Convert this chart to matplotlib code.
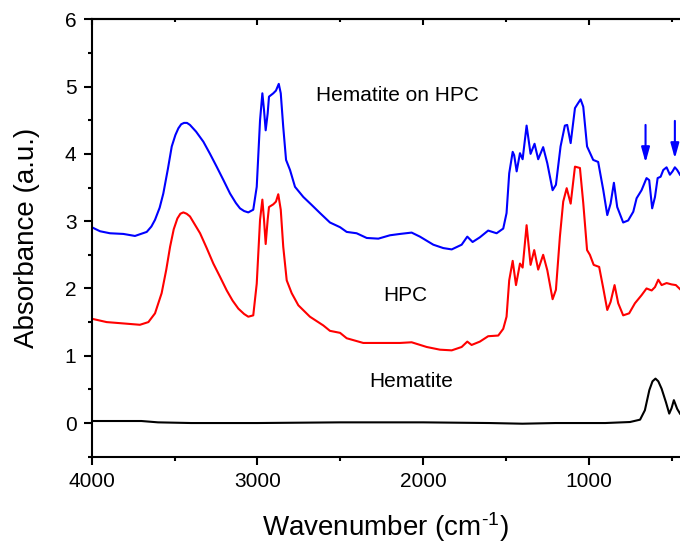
import matplotlib
matplotlib.use("Agg")
import matplotlib.pyplot as plt
from matplotlib.ticker import MultipleLocator

plt.rcParams['font.family'] = ['Liberation Sans', 'DejaVu Sans']
plt.rcParams['mathtext.default'] = 'regular'

# spectra (wavenumber in cm-1, absorbance)
wn_blue = [4000, 3950, 3890, 3809, 3739, 3668, 3640, 3618, 3590, 3568, 3540, 3517, 3495, 3477,
           3460, 3443, 3425, 3407, 3370, 3326, 3286, 3246, 3205, 3165, 3130, 3105, 3080, 3055,
           3025, 3004, 2984, 2970, 2960, 2950, 2938, 2930, 2904, 2888, 2871, 2859, 2844, 2827,
           2803, 2773, 2723, 2672, 2622, 2562, 2501, 2461, 2401, 2340, 2270, 2200, 2139, 2069,
           2019, 1938, 1878, 1827, 1767, 1733, 1701, 1657, 1607, 1556, 1516, 1496, 1480, 1459,
           1450, 1435, 1415, 1399, 1375, 1351, 1327, 1305, 1275, 1250, 1218, 1198, 1170, 1144,
           1130, 1109, 1083, 1065, 1049, 1033, 1010, 973, 943, 912, 888, 868, 848, 828, 792,
           762, 731, 711, 681, 651, 635, 617, 600, 584, 566, 550, 530, 510, 494, 480, 466, 449]
abs_blue = [2.91, 2.85, 2.82, 2.81, 2.78, 2.84, 2.92, 3.02, 3.20, 3.41, 3.78, 4.11, 4.28, 4.38,
            4.44, 4.46, 4.46, 4.43, 4.33, 4.18, 4.00, 3.81, 3.61, 3.41, 3.27, 3.19, 3.15, 3.13,
            3.17, 3.51, 4.50, 4.90, 4.65, 4.35, 4.60, 4.85, 4.90, 4.94, 5.04, 4.90, 4.40, 3.91,
            3.76, 3.51, 3.36, 3.24, 3.12, 2.98, 2.91, 2.84, 2.82, 2.75, 2.74, 2.79, 2.81, 2.83,
            2.77, 2.65, 2.60, 2.58, 2.65, 2.77, 2.69, 2.76, 2.86, 2.82, 2.89, 3.12, 3.71, 4.03,
            3.98, 3.74, 4.01, 3.92, 4.42, 4.00, 4.15, 3.92, 4.10, 3.86, 3.46, 3.54, 4.11, 4.42,
            4.43, 4.16, 4.68, 4.75, 4.81, 4.70, 4.11, 3.91, 3.88, 3.46, 3.09, 3.26, 3.57, 3.21,
            2.98, 3.01, 3.14, 3.34, 3.46, 3.64, 3.61, 3.19, 3.36, 3.64, 3.66, 3.76, 3.80, 3.69,
            3.74, 3.80, 3.76, 3.69]

wn_red = [4000, 3910, 3809, 3709, 3658, 3618, 3578, 3550, 3527, 3505, 3483, 3465, 3447, 3427,
          3407, 3346, 3306, 3266, 3225, 3185, 3150, 3115, 3080, 3055, 3025, 3004, 2984, 2970,
          2960, 2950, 2938, 2930, 2904, 2888, 2874, 2859, 2844, 2823, 2793, 2753, 2683, 2602,
          2562, 2501, 2461, 2361, 2240, 2139, 2069, 1978, 1898, 1827, 1767, 1733, 1707, 1657,
          1607, 1546, 1516, 1496, 1480, 1459, 1439, 1415, 1399, 1375, 1351, 1329, 1305, 1275,
          1250, 1218, 1198, 1174, 1154, 1133, 1109, 1083, 1053, 1033, 1010, 993, 970, 937, 912,
          888, 868, 844, 822, 792, 756, 721, 681, 651, 620, 600, 580, 560, 530, 500, 474, 449]
abs_red = [1.55, 1.50, 1.48, 1.46, 1.50, 1.63, 1.93, 2.28, 2.62, 2.88, 3.04, 3.11, 3.13, 3.11,
           3.07, 2.82, 2.60, 2.37, 2.17, 1.97, 1.82, 1.70, 1.62, 1.58, 1.60, 2.07, 3.02, 3.32,
           3.02, 2.66, 3.02, 3.21, 3.25, 3.29, 3.40, 3.17, 2.62, 2.12, 1.93, 1.75, 1.58, 1.45,
           1.37, 1.34, 1.26, 1.19, 1.19, 1.19, 1.20, 1.13, 1.09, 1.08, 1.13, 1.21, 1.16, 1.21,
           1.29, 1.30, 1.40, 1.58, 2.12, 2.41, 2.05, 2.37, 2.31, 2.94, 2.35, 2.57, 2.28, 2.50,
           2.27, 1.84, 1.98, 2.77, 3.29, 3.49, 3.26, 3.81, 3.79, 3.27, 2.57, 2.50, 2.35, 2.32,
           2.00, 1.68, 1.80, 2.05, 1.78, 1.60, 1.63, 1.78, 1.90, 2.00, 1.97, 2.02, 2.13, 2.05,
           2.08, 2.06, 2.05, 1.99]

wn_black = [4000, 3800, 3700, 3600, 3400, 3000, 2500, 2000, 1600, 1400, 1200, 900, 751, 690,
            661, 634, 615, 597, 580, 560, 534, 514, 500, 486, 466, 449]
abs_black = [0.03, 0.03, 0.03, 0.01, 0.00, 0.00, 0.01, 0.01, 0.00, -0.01, 0.00, 0.00, 0.015,
             0.05, 0.19, 0.49, 0.62, 0.66, 0.62, 0.51, 0.31, 0.14, 0.22, 0.34, 0.21, 0.14]

arrow_wn = [657, 480]
arrow_top = [4.43, 4.49]
arrow_tip = [3.87, 3.93]

fig = plt.figure(figsize=(6.8, 5.46), dpi=100)
ax = fig.add_axes([0.1349, 0.1636, 0.8651, 0.8011])

ax.plot(wn_blue, abs_blue, color='#0000ff', lw=1.5)
ax.plot(wn_red, abs_red, color='#ff0000', lw=1.5)
ax.plot(wn_black, abs_black, color='black', lw=1.5)

for w, t, b in zip(arrow_wn, arrow_top, arrow_tip):
    ax.annotate('', xy=(w, b), xytext=(w, t),
                arrowprops=dict(arrowstyle='-|>,head_length=0.9,head_width=0.25',
                                color='#0000ff', lw=1.5, shrinkA=0, shrinkB=0))

ax.text(2646, 4.87, 'Hematite on HPC', fontsize=15, va='center', ha='left')
ax.text(2110, 1.90, 'HPC', fontsize=15, va='center', ha='center')
ax.text(2073, 0.61, 'Hematite', fontsize=15, va='center', ha='center')

ax.set_xlim(4000, 449)
ax.set_ylim(-0.5, 6)
ax.xaxis.set_major_locator(MultipleLocator(1000))
ax.xaxis.set_minor_locator(MultipleLocator(500))
ax.yaxis.set_major_locator(MultipleLocator(1))
ax.yaxis.set_minor_locator(MultipleLocator(0.5))

for s in ['left', 'bottom', 'top']:
    ax.spines[s].set_linewidth(1.5)
ax.spines['right'].set_visible(False)

ax.tick_params(which='major', direction='out', length=6, width=1.5, labelsize=15, pad=5)
ax.tick_params(which='minor', direction='out', length=3, width=1.5)

top = ax.secondary_xaxis('top')
top.xaxis.set_major_locator(MultipleLocator(1000))
top.xaxis.set_minor_locator(MultipleLocator(500))
top.tick_params(which='major', direction='in', length=4, width=1.5, labeltop=False)
top.tick_params(which='minor', direction='in', length=2.5, width=1.5)
top.spines['top'].set_linewidth(1.5)

ax.set_xlabel('Wavenumber (cm$^{\u2010 1}$)', fontsize=20, labelpad=14)
ax.set_ylabel('Absorbance (a.u.)', fontsize=20, labelpad=18)

fig.savefig('out.png', dpi=100)
